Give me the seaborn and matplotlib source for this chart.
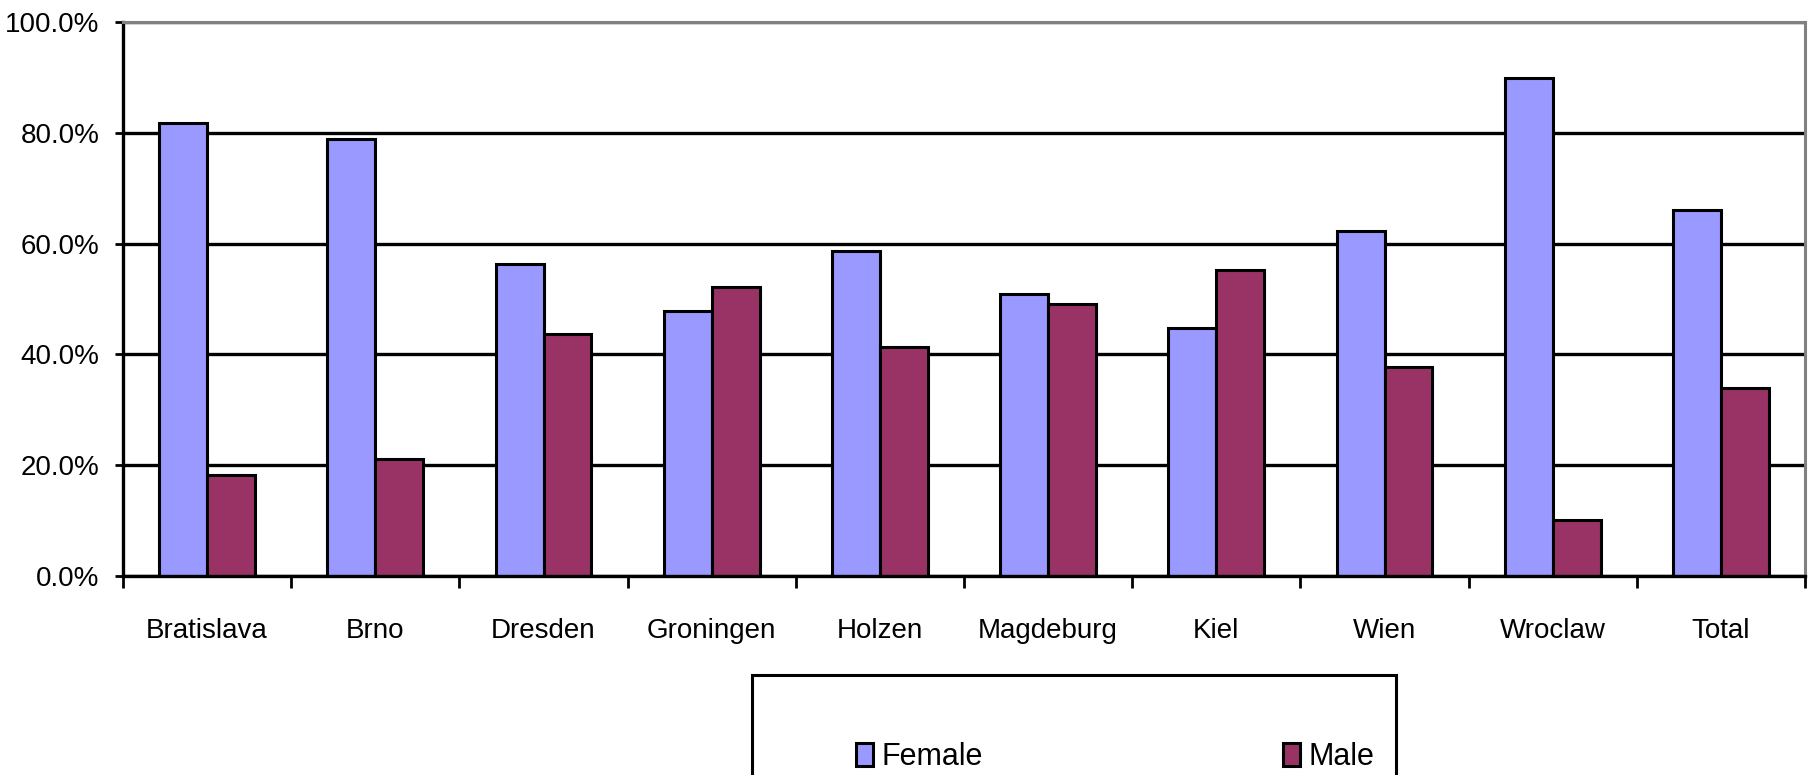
import matplotlib
matplotlib.use("Agg")
import matplotlib.pyplot as plt
from matplotlib.patches import Rectangle
from matplotlib.ticker import PercentFormatter, FixedLocator
import numpy as np
import pandas as pd
import seaborn as sns

cities = ["Bratislava", "Brno", "Dresden", "Groningen", "Holzen",
          "Magdeburg", "Kiel", "Wien", "Wroclaw", "Total"]
female = [81.8, 78.9, 56.3, 47.9, 58.7, 50.9, 44.8, 62.3, 89.9, 66.0]
male = [18.2, 21.1, 43.7, 52.1, 41.3, 49.1, 55.2, 37.7, 10.1, 34.0]
series = ["Female", "Male"]
colors = ["#9999FF", "#993366"]

sns.set_style("white")
plt.rcParams["font.family"] = ["Liberation Sans", "DejaVu Sans"]
plt.rcParams["text.color"] = "black"
plt.rcParams["xtick.color"] = "black"
plt.rcParams["ytick.color"] = "black"

df = pd.DataFrame({
    "city": cities * 2,
    "share": female + male,
    "sex": ["Female"] * len(cities) + ["Male"] * len(cities),
})

fig = plt.figure(figsize=(18.1, 7.75), dpi=100)
ax = fig.add_axes([123 / 1810, 1 - 576 / 775, (1805 - 123) / 1810, (576 - 22) / 775])

sns.barplot(data=df, x="city", y="share", hue="sex", hue_order=series,
            palette=colors, saturation=1, width=0.57, gap=0,
            edgecolor="black", linewidth=2.2, ax=ax)

ax.set_xlim(-0.5, len(cities) - 0.5)
ax.set_ylim(0, 100)
ax.set_xlabel("")
ax.set_ylabel("")
ax.yaxis.set_major_formatter(PercentFormatter(100, decimals=1))
ax.set_yticks(np.arange(0, 101, 20))
ax.set_axisbelow(True)
ax.yaxis.grid(True, color="black", linewidth=2.4)
ax.xaxis.grid(False)

# ticks between categories, labels in the middle
ax.xaxis.set_major_locator(FixedLocator(np.arange(-0.5, len(cities), 1)))
ax.xaxis.set_minor_locator(FixedLocator(np.arange(len(cities))))
ax.set_xticklabels([], minor=False)
ax.set_xticklabels(cities, minor=True)
ax.tick_params(axis="x", which="major", direction="out", length=8.5, width=2,
               bottom=True)
ax.tick_params(axis="x", which="minor", length=0, pad=30, labelsize=20)
ax.tick_params(axis="y", direction="out", length=6, width=2,
               left=True, pad=11, labelsize=20)

for side in ["left", "bottom"]:
    ax.spines[side].set_color("black")
    ax.spines[side].set_linewidth(2.4)
for side in ["top", "right"]:
    ax.spines[side].set_color("#808080")
    ax.spines[side].set_linewidth(2.2)

handles, labels = ax.get_legend_handles_labels()
ax.get_legend().remove()
fig.patches.append(Rectangle((752 / 1810, -0.1), 644 / 1810, 0.1 + (1 - 675 / 775),
                             transform=fig.transFigure, fill=False,
                             edgecolor="black", linewidth=2.2))
fig.legend(handles, labels, ncol=2, loc="center left",
           bbox_to_anchor=(856 / 1810, 1 - 757 / 775), frameon=False,
           fontsize=22, handlelength=0.55, handleheight=0.75,
           handletextpad=0.3, columnspacing=9.8, borderpad=0, borderaxespad=0)

fig.savefig("out.png", dpi=100, facecolor="white")
